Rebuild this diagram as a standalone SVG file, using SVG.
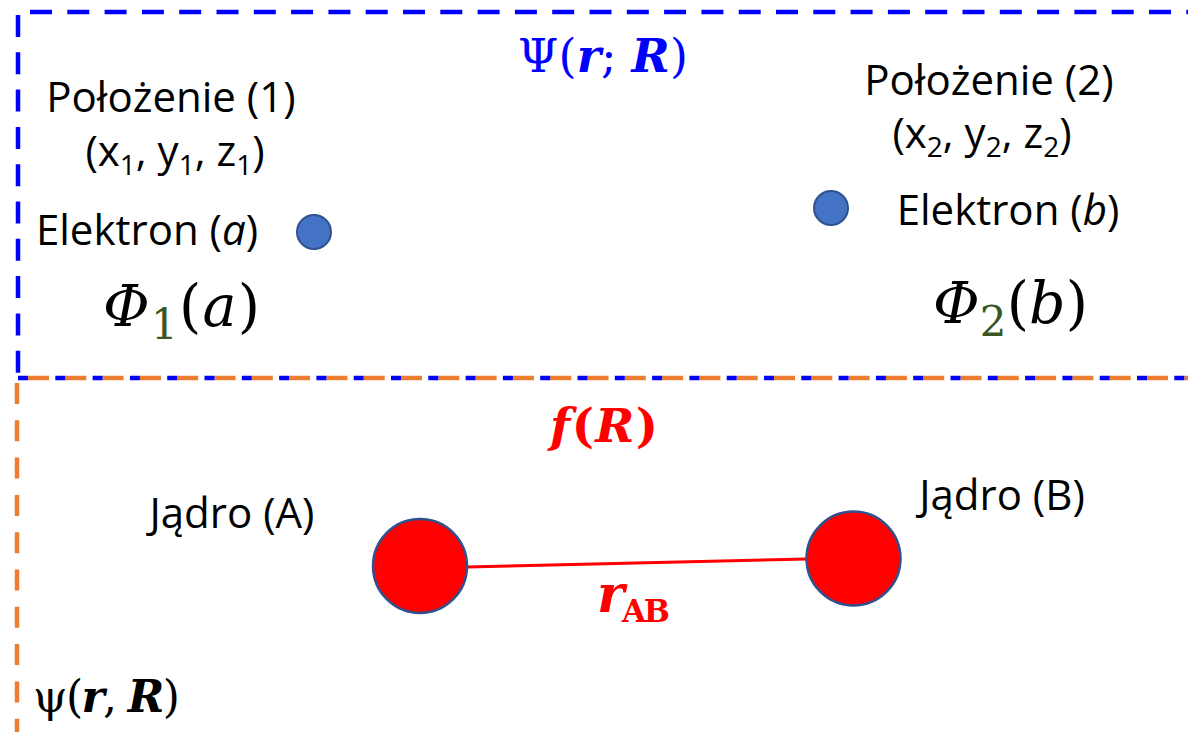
<svg xmlns="http://www.w3.org/2000/svg" width="1188" height="732" viewBox="0 0 1188 732">
<defs>
<style>
.lbl{font-family:"Open Sans","Liberation Sans",sans-serif;font-size:42px;fill:#000}
.math{font-family:"DejaVu Serif","Liberation Serif",serif}
.blue{stroke:#0000FF;stroke-width:4.5;fill:none;stroke-dasharray:22 15.3}
.orange{stroke:#ED7D31;stroke-width:4.5;fill:none;stroke-dasharray:21 16.3}
.el{fill:#4472C4;stroke:#2F528F;stroke-width:2}
.nuc{fill:#FF0000;stroke:#2F528F;stroke-width:2.5}
</style>
</defs>
<rect width="1188" height="732" fill="#fff"/>
<g id="frames">
<line class="orange" x1="28" y1="378" x2="1188" y2="378"/>
<line class="orange" x1="17" y1="383" x2="17" y2="732"/>
<line class="blue" x1="30" y1="12" x2="1188" y2="12"/>
<line class="blue" x1="18" y1="15" x2="18" y2="374"/>
<line class="blue" x1="18" y1="378" x2="1188" y2="378" style="stroke-dasharray:10 27.3"/>
</g>
<g id="title-psi">
<text class="math" x="518" y="72" font-size="46" fill="#0000FF" textLength="170" lengthAdjust="spacing">Ψ(<tspan font-weight="bold" font-style="italic">r</tspan>; <tspan font-weight="bold" font-style="italic">R</tspan>)</text>
</g>
<g id="electron-a">
<text class="lbl" x="171" y="112" text-anchor="middle">Położenie (1)</text>
<text class="lbl" x="175" y="166" text-anchor="middle">(x<tspan font-size="28" dy="9">1</tspan><tspan dy="-9">, y</tspan><tspan font-size="28" dy="9">1</tspan><tspan dy="-9">, z</tspan><tspan font-size="28" dy="9">1</tspan><tspan dy="-9">)</tspan></text>
<text class="lbl" x="147" y="245" text-anchor="middle">Elektron (<tspan font-style="italic">a</tspan>)</text>
<circle class="el" cx="314" cy="232" r="17"/>
<text class="math" x="103" y="326" font-size="57" textLength="157" lengthAdjust="spacing"><tspan font-style="italic">Φ</tspan><tspan fill="#385723" font-size="42" dy="13">1</tspan><tspan dy="-13">(</tspan><tspan font-style="italic">a</tspan>)</text>
</g>
<g id="electron-b">
<text class="lbl" x="989" y="95" text-anchor="middle">Położenie (2)</text>
<text class="lbl" x="982" y="148" text-anchor="middle">(x<tspan font-size="28" dy="9">2</tspan><tspan dy="-9">, y</tspan><tspan font-size="28" dy="9">2</tspan><tspan dy="-9">, z</tspan><tspan font-size="28" dy="9">2</tspan><tspan dy="-9">)</tspan></text>
<text class="lbl" x="1008" y="225" text-anchor="middle">Elektron (<tspan font-style="italic">b</tspan>)</text>
<circle class="el" cx="831" cy="208" r="17"/>
<text class="math" x="933" y="323" font-size="57" textLength="155" lengthAdjust="spacing"><tspan font-style="italic">Φ</tspan><tspan fill="#385723" font-size="42" dy="13">2</tspan><tspan dy="-13">(</tspan><tspan font-style="italic">b</tspan>)</text>
</g>
<g id="title-f">
<text class="math" x="550" y="442" font-size="47" fill="#FF0000" font-weight="bold" textLength="108" lengthAdjust="spacing"><tspan font-style="italic">f</tspan>(<tspan font-style="italic">R</tspan>)</text>
</g>
<g id="connectors">
<line x1="467" y1="567" x2="806" y2="559" stroke="#FF0000" stroke-width="3"/>
</g>
<g id="nucleus-a">
<text class="lbl" x="232" y="528" text-anchor="middle">Jądro (A)</text>
<circle class="nuc" cx="420" cy="566" r="47"/>
</g>
<g id="nucleus-b">
<text class="lbl" x="1002" y="510" text-anchor="middle">Jądro (B)</text>
<circle class="nuc" cx="853.5" cy="558.5" r="47"/>
</g>
<g id="label-rab">
<text class="math" x="597" y="612" font-size="52" fill="#FF0000" font-weight="bold" textLength="73" lengthAdjust="spacing"><tspan font-style="italic">r</tspan><tspan font-size="31" dy="10">AB</tspan></text>
</g>
<g id="label-psi">
<text class="math" x="33" y="712" font-size="44" fill="#000" textLength="147" lengthAdjust="spacing">ψ(<tspan font-weight="bold" font-style="italic">r</tspan>, <tspan font-weight="bold" font-style="italic">R</tspan>)</text>
</g>
</svg>
